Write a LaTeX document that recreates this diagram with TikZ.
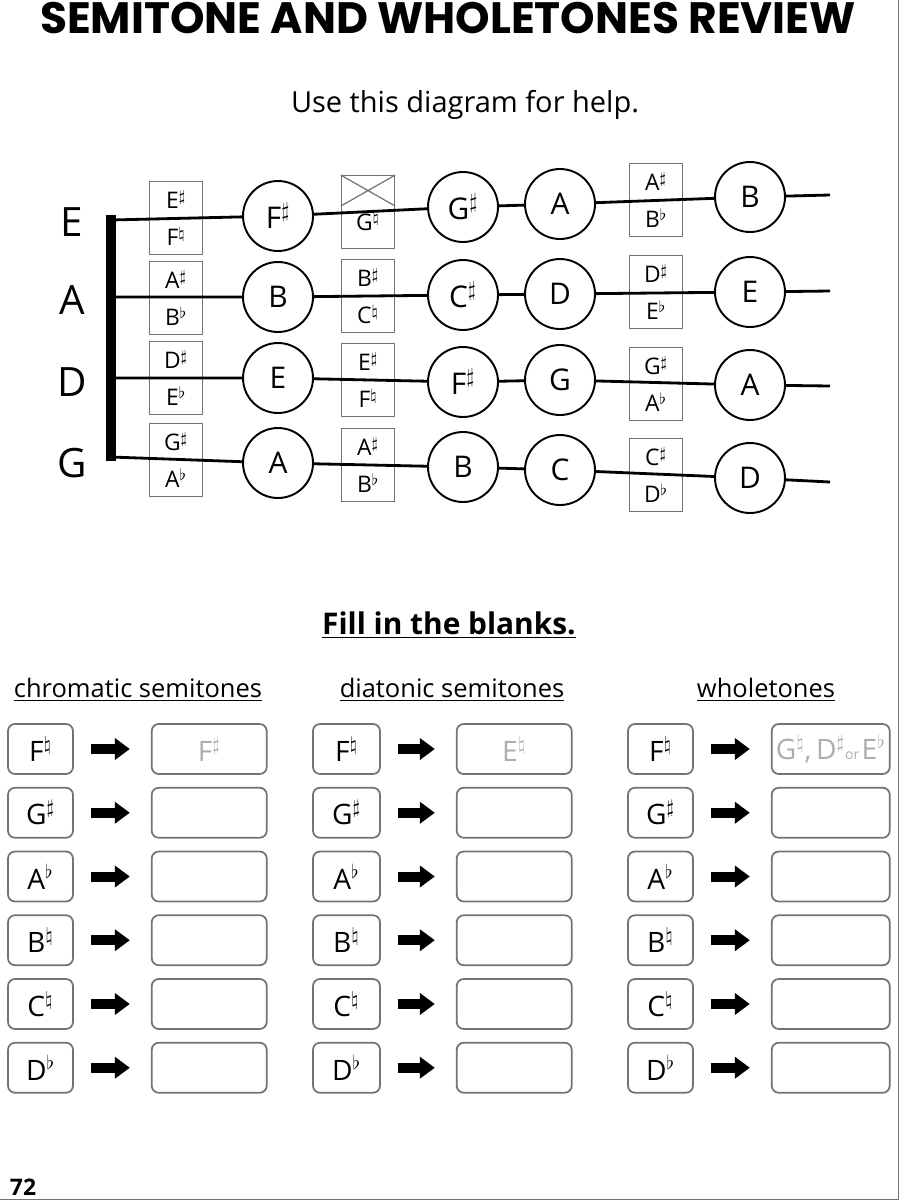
\documentclass[tikz,border=0pt]{standalone}
\usepackage{fontspec}
\setmainfont{Open Sans}
\newfontfamily\titlefont{Poppins}
\usetikzlibrary{positioning,arrows.meta}

\definecolor{linegray}{gray}{0.45}
\definecolor{hintgray}{gray}{0.68}
\newcommand{\shp}{\ensuremath{^{\sharp}}}
\newcommand{\flt}{\ensuremath{^{\flat}}}
\newcommand{\ntl}{\ensuremath{^{\natural}}}

\tikzset{
  note/.style={draw, circle, minimum size=1.4cm, inner sep=0pt, line width=1.1pt, fill=white, font=\fontsize{17}{17}\selectfont},
  fret/.style={draw=linegray, rectangle, minimum width=1.06cm, minimum height=1.45cm, inner sep=0pt, line width=0.7pt, align=center, font=\fontsize{13}{14}\selectfont},
  strg/.style={line width=1.6pt},
  strlabel/.style={font=\fontsize{23}{23}\selectfont},
  lab/.style={draw=linegray, rectangle, rounded corners=0.14cm, line width=1pt, minimum width=1.3cm, minimum height=1cm, inner sep=0pt, font=\fontsize{16}{16}\selectfont},
  ans/.style={lab, minimum width=2.3cm, text=hintgray},
  fatarrow/.style={-{Triangle[length=0.3cm,width=0.42cm]}, line width=0.2cm, shorten <=0.34cm, shorten >=0.42cm},
  head/.style={font=\fontsize{14.5}{14.5}\selectfont}
}

\begin{document}
\begin{tikzpicture}[x=0.02cm, y=-0.02cm]
\useasboundingbox (0,0) rectangle (900,1200);
\draw[linegray] (0,1199) -- (898,1199) -- (898,0);

% Titles
\node (title) at (448,18) {\titlefont\bfseries\fontsize{25}{25}\selectfont SEMITONE AND WHOLETONES REVIEW};
\node (help) at (465,105) {\fontsize{16.5}{16.5}\selectfont Use this diagram for help.};

% String names and nut
\node (lE) [strlabel] at (72,222) {E};
\node (lA) [strlabel] at (72,300) {A};
\node (lD) [strlabel] at (72,382) {D};
\node (lG) [strlabel] at (72,463) {G};
\draw[line width=6pt] (111,215) -- (111,461);
\coordinate (nE) at (111,220);
\coordinate (nA) at (111,297);
\coordinate (nD) at (111,378);
\coordinate (nG) at (111,457);

% Fret boxes
\node (eE1) [fret] at (176,218) {E\shp\\[7pt]F\ntl};
\node (xE3) [fret] at (368,212) {\\[7pt]G\ntl};
\draw[linegray, line width=0.7pt] (xE3.north west) -- ([yshift=0.12cm]xE3.east) (xE3.north east) -- ([yshift=0.12cm]xE3.west);
\node (aE6) [fret] at (656,200) {A\shp\\[7pt]B\flt};
\node (aA1) [fret] at (176,298) {A\shp\\[7pt]B\flt};
\node (bA3) [fret] at (368,296) {B\shp\\[7pt]C\ntl};
\node (dA6) [fret] at (656,292) {D\shp\\[7pt]E\flt};
\node (dD1) [fret] at (176,378) {D\shp\\[7pt]E\flt};
\node (eD3) [fret] at (368,380) {E\shp\\[7pt]F\ntl};
\node (gD6) [fret] at (656,384) {G\shp\\[7pt]A\flt};
\node (gG1) [fret] at (176,460) {G\shp\\[7pt]A\flt};
\node (aG3) [fret] at (368,465) {A\shp\\[7pt]B\flt};
\node (cG6) [fret] at (656,475) {C\shp\\[7pt]D\flt};

% Note circles
\node (fE2) [note] at (278,216) {F\shp};
\node (gE4) [note] at (463,207) {G\shp};
\node (aE5) [note] at (560,204) {A};
\node (bE7) [note] at (750,197) {B};
\node (bA2) [note] at (278,297) {B};
\node (cA4) [note] at (463,295) {C\shp};
\node (dA5) [note] at (560,294) {D};
\node (eA7) [note] at (750,292) {E};
\node (eD2) [note] at (278,378) {E};
\node (fD4) [note] at (463,382) {F\shp};
\node (gD5) [note] at (560,380) {G};
\node (aD7) [note] at (750,385) {A};
\node (aG2) [note] at (278,463) {A};
\node (bG4) [note] at (463,467) {B};
\node (cG5) [note] at (560,470) {C};
\node (dG7) [note] at (750,478) {D};
\coordinate (tE) at (830,195);
\coordinate (tA) at (830,291);
\coordinate (tD) at (830,386);
\coordinate (tG) at (830,482);

% Strings
\draw[strg] (nE) -- (fE2) -- (gE4) -- (aE5) -- (bE7) -- (tE);
\draw[strg] (nA) -- (bA2) -- (cA4) -- (dA5) -- (eA7) -- (tA);
\draw[strg] (nD) -- (eD2) -- (fD4) -- (gD5) -- (aD7) -- (tD);
\draw[strg] (nG) -- (aG2) -- (bG4) -- (cG5) -- (dG7) -- (tG);

% Worksheet
\node (fill) at (449,625) {\bfseries\fontsize{17}{17}\selectfont\underline{Fill in the blanks.}};
\node (hchrom) [head] at (138,690) {\underline{chromatic semitones}};
\node (hdiat) [head] at (452,690) {\underline{diatonic semitones}};
\node (hwhole) [head] at (766,690) {\underline{wholetones}};

% chromatic semitones
\node (c1) [lab] at (40.5,749) {F\ntl};
\node (c2) [lab, below=0.24cm of c1] {G\shp};
\node (c3) [lab, below=0.24cm of c2] {A\flt};
\node (c4) [lab, below=0.24cm of c3] {B\ntl};
\node (c5) [lab, below=0.24cm of c4] {C\ntl};
\node (c6) [lab, below=0.24cm of c5] {D\flt};
\node (c1a) [ans, right=1.54cm of c1] {F\shp};
\node (c2a) [ans, right=1.54cm of c2] {};
\node (c3a) [ans, right=1.54cm of c3] {};
\node (c4a) [ans, right=1.54cm of c4] {};
\node (c5a) [ans, right=1.54cm of c5] {};
\node (c6a) [ans, right=1.54cm of c6] {};

% diatonic semitones
\node (d1) [lab, minimum width=1.34cm] at (346.5,749) {F\ntl};
\node (d2) [lab, minimum width=1.34cm, below=0.24cm of d1] {G\shp};
\node (d3) [lab, minimum width=1.34cm, below=0.24cm of d2] {A\flt};
\node (d4) [lab, minimum width=1.34cm, below=0.24cm of d3] {B\ntl};
\node (d5) [lab, minimum width=1.34cm, below=0.24cm of d4] {C\ntl};
\node (d6) [lab, minimum width=1.34cm, below=0.24cm of d5] {D\flt};
\node (d1a) [ans, right=1.5cm of d1] {E\ntl};
\node (d2a) [ans, right=1.5cm of d2] {};
\node (d3a) [ans, right=1.5cm of d3] {};
\node (d4a) [ans, right=1.5cm of d4] {};
\node (d5a) [ans, right=1.5cm of d5] {};
\node (d6a) [ans, right=1.5cm of d6] {};

% wholetones
\node (w1) [lab] at (660.5,749) {F\ntl};
\node (w2) [lab, below=0.24cm of w1] {G\shp};
\node (w3) [lab, below=0.24cm of w2] {A\flt};
\node (w4) [lab, below=0.24cm of w3] {B\ntl};
\node (w5) [lab, below=0.24cm of w4] {C\ntl};
\node (w6) [lab, below=0.24cm of w5] {D\flt};
\node (w1a) [ans, minimum width=2.36cm, right=1.54cm of w1] {G\ntl,\,D\shp{\fontsize{8}{8}\selectfont or\,}E\flt};
\node (w2a) [ans, minimum width=2.36cm, right=1.54cm of w2] {};
\node (w3a) [ans, minimum width=2.36cm, right=1.54cm of w3] {};
\node (w4a) [ans, minimum width=2.36cm, right=1.54cm of w4] {};
\node (w5a) [ans, minimum width=2.36cm, right=1.54cm of w5] {};
\node (w6a) [ans, minimum width=2.36cm, right=1.54cm of w6] {};

% Arrows
\draw[fatarrow] (c1) -- (c1a);
\draw[fatarrow] (c2) -- (c2a);
\draw[fatarrow] (c3) -- (c3a);
\draw[fatarrow] (c4) -- (c4a);
\draw[fatarrow] (c5) -- (c5a);
\draw[fatarrow] (c6) -- (c6a);
\draw[fatarrow] (d1) -- (d1a);
\draw[fatarrow] (d2) -- (d2a);
\draw[fatarrow] (d3) -- (d3a);
\draw[fatarrow] (d4) -- (d4a);
\draw[fatarrow] (d5) -- (d5a);
\draw[fatarrow] (d6) -- (d6a);
\draw[fatarrow] (w1) -- (w1a);
\draw[fatarrow] (w2) -- (w2a);
\draw[fatarrow] (w3) -- (w3a);
\draw[fatarrow] (w4) -- (w4a);
\draw[fatarrow] (w5) -- (w5a);
\draw[fatarrow] (w6) -- (w6a);

\node (page) at (23,1187) {\bfseries\fontsize{13}{13}\selectfont 72};
\end{tikzpicture}
\end{document}
